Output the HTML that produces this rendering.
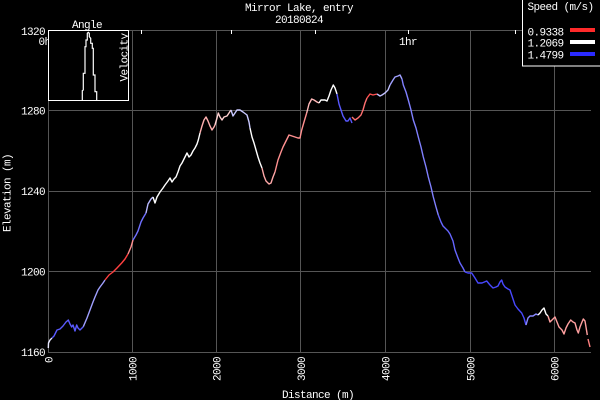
<!DOCTYPE html>
<html><head><meta charset="utf-8"><style>
html,body{margin:0;padding:0;background:#000;}
svg{display:block;}
text{font-family:"Liberation Mono",monospace;font-size:11px;letter-spacing:-0.6px;fill:#fff;}
</style></head><body>
<svg width="600" height="400" viewBox="0 0 600 400" xmlns="http://www.w3.org/2000/svg">
<rect width="600" height="400" fill="#000"/>
<defs><clipPath id="ic"><rect x="48.5" y="30.5" width="79.5" height="69.5"/></clipPath></defs>
<!-- grid -->
<g stroke="#555" stroke-width="1" shape-rendering="crispEdges">
<line x1="48" y1="30.5" x2="591" y2="30.5"/>
<line x1="48" y1="110.5" x2="591" y2="110.5"/>
<line x1="48" y1="191.5" x2="591" y2="191.5"/>
<line x1="48" y1="271.5" x2="591" y2="271.5"/>
<line x1="48" y1="352.5" x2="591" y2="352.5"/>
<line x1="48.5" y1="30" x2="48.5" y2="352"/>
<line x1="132.5" y1="30" x2="132.5" y2="352"/>
<line x1="216.5" y1="30" x2="216.5" y2="352"/>
<line x1="300.5" y1="30" x2="300.5" y2="352"/>
<line x1="385.5" y1="30" x2="385.5" y2="352"/>
<line x1="470.5" y1="30" x2="470.5" y2="352"/>
<line x1="554.5" y1="30" x2="554.5" y2="352"/>
</g>
<!-- top time ticks -->
<g stroke="#fff" stroke-width="1" shape-rendering="crispEdges">
<line x1="141.5" y1="30" x2="141.5" y2="34"/>
<line x1="231.5" y1="30" x2="231.5" y2="34"/>
<line x1="315.5" y1="30" x2="315.5" y2="34"/>
<line x1="408.5" y1="30" x2="408.5" y2="34"/>
<line x1="515.5" y1="30" x2="515.5" y2="34"/>
</g>
<text x="38.5" y="45">0hr</text>
<text x="399" y="45">1hr</text>
<!-- titles -->
<text x="299" y="11" text-anchor="middle">Mirror Lake, entry</text>
<text x="299" y="23" text-anchor="middle">20180824</text>
<!-- y tick labels -->
<g text-anchor="end">
<text x="45" y="35">1320</text>
<text x="45" y="114.5">1280</text>
<text x="45" y="195">1240</text>
<text x="45" y="275.5">1200</text>
<text x="45" y="356">1160</text>
</g>
<!-- x tick labels -->
<g text-anchor="end">
<text transform="translate(52.5,357) rotate(-90)">0</text>
<text transform="translate(136.5,357) rotate(-90)">1000</text>
<text transform="translate(220.7,357) rotate(-90)">2000</text>
<text transform="translate(304.8,357) rotate(-90)">3000</text>
<text transform="translate(389.5,357) rotate(-90)">4000</text>
<text transform="translate(474.3,357) rotate(-90)">5000</text>
<text transform="translate(558.3,357) rotate(-90)">6000</text>
</g>
<text transform="translate(10.5,193) rotate(-90)" text-anchor="middle">Elevation (m)</text>
<text x="318" y="398" text-anchor="middle">Distance (m)</text>
<!-- data -->
<g fill="none" stroke-width="1.4" stroke-linejoin="round">
<polyline stroke="#e8e8ff" points="48.3,348 48.5,343 50,340 52,338"/>
<polyline stroke="#5a5aff" points="52,338 54,336 57,330 60,329 63,326 66,322 68.3,320 70,324 71.7,327 73,325 75,331 76.7,325 78,328 80,330 82,328 83.3,326.7"/>
<polyline stroke="#a0a0ff" points="83.3,326.7 87,318 90,310 93,302 95,297 98,290 100,287 103,283 105,280"/>
<polyline stroke="#ff4040" points="105,280 109,275 113,272 117,268 121.7,263 125,259 128,254"/>
<polyline stroke="#ff9090" points="128,254 131,247 133,240"/>
<polyline stroke="#7070ff" points="133,240 136,235 138,231 141,222 143,218 146,213"/>
<polyline stroke="#b8b8ff" points="146,213 148,204 151,199 153,197"/>
<polyline stroke="#ffffff" points="153,197 155,203 157,197 160,192 163,188 165,185 168,181 170,178 172,182 174,179 176,177 178,172 180,166 182,163 184,159 187,153 189,157 191,155 193,151 195,148 197,144 198.3,140 200,133"/>
<polyline stroke="#ffb0b0" points="200,133 202,126 204,120 206,117 208,121 210,126 212,130 214,127 215,125"/>
<polyline stroke="#ffd0d0" points="215,125 217,118 218.3,113 220,117 222,120 224,117 227,116 229,113 231,110"/>
<polyline stroke="#c8c8ff" points="231,110 233,116 235,113 237,110 240,110 243,112 247,115 249,122 250,128"/>
<polyline stroke="#ffffff" points="250,128 252,137 254,143 256,150 258,157 260,163 262,168"/>
<polyline stroke="#ffa8a8" points="262,168 264,176 266,181 269,184 271,183 273,177 275,172"/>
<polyline stroke="#ff9090" points="275,172 278,160 281,152 283,147 286,141 289,135 292,136 295,137 298,138 300,138 301.7,130 304,122 306.7,113"/>
<polyline stroke="#ffb8b8" points="306.7,113 309,104 311.7,99 314,100 317,102 319,103"/>
<polyline stroke="#ffffff" points="319,103 321,100 323,100 325,100 327,101 329,96 331,90 333.3,85 335,88 337,94"/>
<polyline stroke="#5858ff" points="337,94 339,104 341,110 343,116 346,121 348,121 350,118 352,123"/>
<polyline stroke="#ff7070" points="352,117 355,120 358,118 361,115 363,110 365,103 367,98"/>
<polyline stroke="#ff5050" points="367,98 370,94 373,95 377,94"/>
<polyline stroke="#c0c0ff" points="377,94 380,96 382,95 385,93 388,90 390,85"/>
<polyline stroke="#a0a0ff" points="390,85 393,80 395,77 398,76 400,75 402,79"/>
<polyline stroke="#8080ff" points="402,79 403.3,85 406,92 408.3,100 411,110 413.3,120 416,128 418.3,137 421,147 423.3,157 426,167 428.3,177 431,187 433.3,197 436,207 438.3,215"/>
<polyline stroke="#6666ff" points="438.3,215 441,222 443,226 445,228 448,231 450,234 453,241 455,250 458,258 460,263 463,268 465,272"/>
<polyline stroke="#4848ff" points="465,272 468,273 471.7,273 475,278 478,283 482,283 486.7,281 490,285 493,288 496,287 498,286 500,282 501.7,280 503,284 505,287 508,289 510,290 512,296 515,305 518,309 521.7,313 524,318 526,325"/>
<polyline stroke="#8888ff" points="526,325 528,318 530,316 533,316 536,314 538,315"/>
<polyline stroke="#ffffff" points="538,315 540,313 542,310 544,308 546,314 548,316"/>
<polyline stroke="#ffa0a0" points="548,316 550,322 552,320 555,317 557,322 559,327 562,330 564,334 566,328 568,324 570.7,320 573,322 575,323 577,330 578.3,333 580,327 582,322 583.3,319 585,321 586,327 587.3,335"/>
<polyline stroke="#ff8080" points="588,339 589,343 590,347"/>
</g>
<!-- inset -->
<rect x="48.5" y="30.5" width="80" height="70" fill="#000" stroke="none"/>
<g clip-path="url(#ic)">
<polyline fill="none" stroke="#fff" stroke-width="1.2" points="82.3,100 82.3,90.7 83.3,90 83.3,73.3 85,73.3 85,46.7 86,46.7 86,40 87.3,40 87.3,33.3 88.3,32.3 89.3,33.3 89.3,36.7 90.7,38.3 90.7,43.3 92.3,43.3 92.3,48.3 93.3,48.3 93.3,75 95,75 95,91.7 96.7,91.7 96.7,100"/>
<text transform="translate(127.5,57.5) rotate(-90)" text-anchor="middle">Velocity</text>
</g>
<rect x="48.5" y="30.5" width="80" height="70" fill="none" stroke="#fff" stroke-width="1" shape-rendering="crispEdges"/>
<text x="87" y="28" text-anchor="middle">Angle</text>
<!-- legend -->
<rect x="522.5" y="-0.5" width="78" height="66.5" fill="#000" stroke="#fff" stroke-width="1" shape-rendering="crispEdges"/>
<text x="527.5" y="10">Speed (m/s)</text>
<text x="527.5" y="35.3">0.9338</text>
<text x="527.5" y="46.7">1.2069</text>
<text x="527.5" y="58.3">1.4799</text>
<rect x="570" y="28" width="25" height="4" fill="#ff2a2a"/>
<rect x="570" y="40" width="25" height="4" fill="#ffffff"/>
<rect x="570" y="52" width="25" height="4" fill="#2a2aff"/>
</svg>
</body></html>
